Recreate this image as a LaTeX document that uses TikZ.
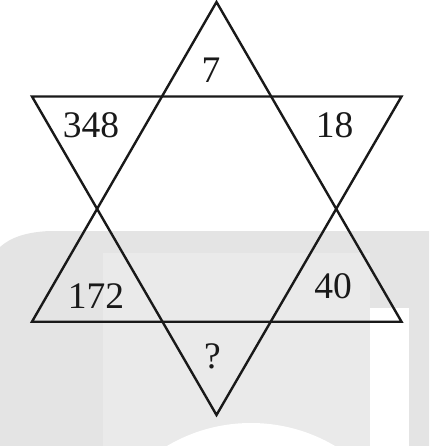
\documentclass[tikz,border=0pt]{standalone}
\usepackage{fontspec}
\setmainfont{Liberation Serif}
\begin{document}
\begin{tikzpicture}[x=1bp,y=-1bp,
  lbl/.style={anchor=base,inner sep=0pt,font=\fontsize{37.5bp}{40bp}\selectfont,text=black!90},
  edge/.style={line width=2.4bp,line join=miter,black!90}]
\useasboundingbox (0,0) rectangle (429,446);
\definecolor{wmgrey}{HTML}{E4E4E4}
\definecolor{wmlight}{HTML}{EAEAEA}
% watermark background
\begin{scope}
\clip (0,0) rectangle (429,446);
\fill[wmgrey] (0,247) .. controls (10,238) and (25,232) .. (50,231) -- (429,231) -- (429,446) -- (0,446) -- cycle;
\fill[wmlight] (103,253) rectangle (370,446);
\fill[white] (370,308) rectangle (409,446);
\fill[white] (251,588) circle[radius=165];
\end{scope}
% star vertices
\coordinate (UA) at (216.5,2);
\coordinate (UL) at (32,321.7);
\coordinate (UR) at (401.5,321.7);
\coordinate (DL) at (32,96.5);
\coordinate (DR) at (401.5,96.5);
\coordinate (DA) at (216.5,415);
\draw[edge] (UA) -- (UR) -- (UL) -- cycle;
\draw[edge] (DL) -- (DR) -- (DA) -- cycle;
% labels
\node[lbl] (n7) at (211,83) {7};
\node[lbl] (n348) at (91,137.3) {348};
\node[lbl] (n18) at (334.5,138) {18};
\node[lbl] (n172) at (96,308) {172};
\node[lbl] (n40) at (333,298) {40};
\node[lbl] (nq) at (212.5,368) {?};
\end{tikzpicture}
\end{document}
